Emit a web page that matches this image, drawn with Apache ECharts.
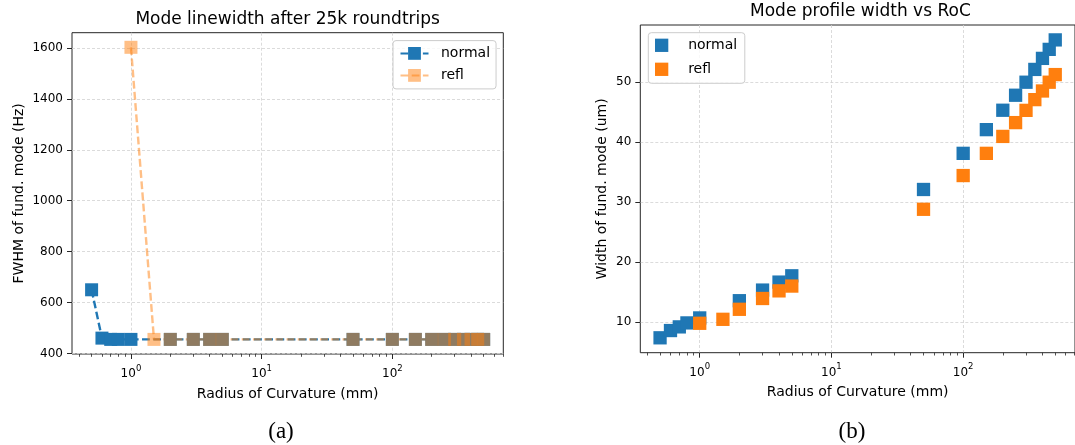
<!DOCTYPE html>
<html>
<head>
<meta charset="utf-8">
<script src="https://cdn.jsdelivr.net/npm/echarts@6/dist/echarts.min.js"></script>
<style>
  html, body { margin: 0; padding: 0; background: #ffffff; }
  #chart { width: 1075px; height: 445px; }
</style>
</head>
<body>
<div id="chart"></div>
<script>
// Radius of curvature of each simulated mirror (mm)
const rocNormal = [0.5, 0.6, 0.7, 0.8, 1, 2, 3, 4, 5, 50, 100, 150, 200, 250, 300, 350, 400, 450, 500];
const rocRefl = [1, 1.5, 2, 3, 4, 5, 50, 100, 150, 200, 250, 300, 350, 400, 450, 500];

// Linewidth (FWHM) of the fundamental mode after 25k roundtrips (Hz)
const fwhmNormal = [650, 460, 455, 455, 455, 455, 455, 455, 455, 455, 455, 455, 455, 455, 455, 455, 455, 455, 455];
const fwhmRefl = [1603, 455, 455, 455, 455, 455, 455, 455, 455, 455, 455, 455, 455, 455, 455, 455];

// Width of the fundamental mode profile (um)
const widthNormal = [7.35, 8.56, 9.17, 9.83, 10.66, 13.53, 15.3, 16.63, 17.68, 32.06, 38.08, 42.03, 45.26, 47.76, 49.93, 52.06, 53.9, 55.4, 56.98];
const widthRefl = [9.77, 10.43, 12.1, 13.9, 15.17, 15.97, 28.76, 34.38, 38.08, 40.9, 43.2, 45.24, 47.03, 48.47, 49.93, 51.2];

// Tick positions
const rocMajorTicks = [1, 10, 100];
const rocMinorTicks = [0.4, 0.5, 0.6, 0.7, 0.8, 0.9, 2, 3, 4, 5, 6, 7, 8, 9,
                       20, 30, 40, 50, 60, 70, 80, 90, 200, 300, 400, 500, 600, 700];
const fwhmTicks = [400, 600, 800, 1000, 1200, 1400, 1600];
const widthTicks = [10, 20, 30, 40, 50];

const seriesNames = ['normal', 'refl'];

// ---- styling / layout ----
const FONT = 'DejaVu Sans';
const SERIF = 'Liberation Serif';
const BLUE = '#1f77b4';
const ORANGE = '#ff7f0e';
const INK = '#000000';
const SPINE = '#262626';
const W = 1075, H = 445;

// plot boxes (pixels): left, top, right edge, bottom edge
const boxA = { l: 72, t: 32.7, r: 503.3, b: 354 };
const boxB = { l: 640.3, t: 25, r: 1080.5, b: 352.7 };

function pairs(xs, ys) { return xs.map((x, i) => [x, ys[i]]); }

// 5% autoscale margins like a default pyplot axis (log-space for x)
function logRange(xs) {
  const lo = Math.log10(Math.min(...xs)), hi = Math.log10(Math.max(...xs));
  const m = (hi - lo) * 0.05;
  return [Math.pow(10, lo - m), Math.pow(10, hi + m)];
}
function linRange(ys) {
  const lo = Math.min(...ys), hi = Math.max(...ys);
  const m = (hi - lo) * 0.05;
  return [lo - m, hi + m];
}

const xRangeA = logRange(rocNormal.concat(rocRefl));
const xRangeB = logRange(rocNormal.concat(rocRefl));
const yRangeA = linRange(fwhmNormal.concat(fwhmRefl));
const yRangeB = linRange(widthNormal.concat(widthRefl));

const gridLine = { show: true, lineStyle: { color: '#d2d2d2', type: [3, 2], width: 0.8 } };
const tickLine = { color: SPINE, width: 1 };
const DASH = [7.8, 3.4];

function gridOf(box) {
  return {
    left: box.l, top: box.t, right: W - box.r, bottom: H - box.b,
    show: true, borderColor: SPINE, borderWidth: 1, backgroundColor: 'transparent'
  };
}

function majorX(gridIndex, range) {
  return {
    type: 'log', logBase: 10, gridIndex, position: 'bottom',
    min: range[0], max: range[1],
    name: 'Radius of Curvature (mm)', nameLocation: 'middle', nameGap: 33,
    nameTextStyle: { fontFamily: FONT, fontSize: 14, color: INK },
    axisLine: { show: false, onZero: false },
    axisTick: { show: true, customValues: rocMajorTicks, length: 5, lineStyle: tickLine },
    axisLabel: {
      customValues: rocMajorTicks, margin: 10, color: INK,
      formatter: v => '{b|10}{s|' + Math.round(Math.log10(v)) + '}',
      rich: {
        b: { fontFamily: FONT, fontSize: 12, color: INK, lineHeight: 16, verticalAlign: 'bottom' },
        s: { fontFamily: FONT, fontSize: 8.5, color: INK, lineHeight: 10, verticalAlign: 'top' }
      }
    },
    splitLine: gridLine,
    minorTick: { show: false }, minorSplitLine: { show: false }
  };
}

function minorX(gridIndex, range) {
  return {
    type: 'log', logBase: 10, gridIndex, position: 'bottom',
    min: range[0], max: range[1],
    axisLine: { show: false, onZero: false },
    axisTick: { show: true, customValues: rocMinorTicks, length: 2.8, lineStyle: { color: SPINE, width: 0.8 } },
    axisLabel: { show: false },
    splitLine: { show: false }
  };
}

function valueY(gridIndex, range, ticks, name, gap) {
  return {
    type: 'value', gridIndex, min: range[0], max: range[1],
    name, nameLocation: 'middle', nameGap: gap,
    nameTextStyle: { fontFamily: FONT, fontSize: 14, color: INK },
    axisLine: { show: false },
    axisTick: { show: true, customValues: ticks, length: 5, lineStyle: tickLine },
    axisLabel: {
      customValues: ticks, margin: 9, fontFamily: FONT, fontSize: 12, color: INK,
      formatter: v => String(v)
    },
    splitLine: gridLine
  };
}

const legendBase = {
  orient: 'vertical', selectedMode: false, itemWidth: 28,
  textStyle: { fontFamily: FONT, fontSize: 14, color: INK, padding: [0, 0, 0, 7.5] },
  borderColor: '#cccccc', borderWidth: 1, borderRadius: 3,
  backgroundColor: 'rgba(255,255,255,0.8)'
};
const SQUARE = 'path://M0,0L10,0L10,10L0,10Z';

const titleStyle = { fontFamily: FONT, fontSize: 17, fontWeight: 'normal', color: INK };
const captionStyle = { fontFamily: SERIF, fontSize: 23, fontWeight: 'normal', color: INK };

const option = {
  animation: false,
  backgroundColor: '#ffffff',
  title: [
    { text: 'Mode linewidth after 25k roundtrips', left: (boxA.l + boxA.r) / 2, top: 11,
      textAlign: 'center', padding: 0, textStyle: titleStyle },
    { text: 'Mode profile width vs RoC', left: (boxB.l + boxB.r) / 2, top: 3,
      textAlign: 'center', padding: 0, textStyle: titleStyle },
    { text: '(a)', left: 281, top: 420, textAlign: 'center', padding: 0, textStyle: captionStyle },
    { text: '(b)', left: 852, top: 420, textAlign: 'center', padding: 0, textStyle: captionStyle }
  ],
  legend: [
    Object.assign({}, legendBase, {
      left: 393, top: 40.6, itemHeight: 16, itemGap: 8,
      padding: [5.8, 6, 6.5, 6.5],
      data: seriesNames
    }),
    Object.assign({}, legendBase, {
      left: 648.3, top: 32.7, itemHeight: 13.3, itemGap: 10,
      padding: [5.6, 7.6, 7, 6.7],
      data: [
        { name: seriesNames[0], icon: SQUARE, itemStyle: { color: BLUE, opacity: 1 } },
        { name: seriesNames[1], icon: SQUARE, itemStyle: { color: ORANGE, opacity: 1 } }
      ]
    })
  ],
  grid: [gridOf(boxA), gridOf(boxB)],
  xAxis: [majorX(0, xRangeA), minorX(0, xRangeA), majorX(1, xRangeB), minorX(1, xRangeB)],
  yAxis: [
    valueY(0, yRangeA, fwhmTicks, 'FWHM of fund. mode (Hz)', 46),
    valueY(1, yRangeB, widthTicks, 'Width of fund. mode (um)', 31)
  ],
  series: [
    {
      name: seriesNames[0], type: 'line', xAxisIndex: 0, yAxisIndex: 0,
      data: pairs(rocNormal, fwhmNormal),
      symbol: 'rect', symbolSize: 13, showAllSymbol: true,
      itemStyle: { color: BLUE },
      lineStyle: { color: BLUE, width: 2.4, type: DASH },
      emphasis: { disabled: true }
    },
    {
      name: seriesNames[1], type: 'line', xAxisIndex: 0, yAxisIndex: 0,
      data: pairs(rocRefl, fwhmRefl),
      symbol: 'rect', symbolSize: 13, showAllSymbol: true,
      itemStyle: { color: ORANGE, opacity: 0.5 },
      lineStyle: { color: ORANGE, width: 2.4, type: DASH, opacity: 0.5 },
      emphasis: { disabled: true }
    },
    {
      name: seriesNames[0], type: 'scatter', xAxisIndex: 2, yAxisIndex: 1,
      data: pairs(rocNormal, widthNormal),
      symbol: 'rect', symbolSize: 13.3,
      itemStyle: { color: BLUE, opacity: 1 },
      emphasis: { disabled: true }
    },
    {
      name: seriesNames[1], type: 'scatter', xAxisIndex: 2, yAxisIndex: 1,
      data: pairs(rocRefl, widthRefl),
      symbol: 'rect', symbolSize: 13.3,
      itemStyle: { color: ORANGE, opacity: 1 },
      emphasis: { disabled: true }
    }
  ]
};

const chart = echarts.init(document.getElementById('chart'), null, { renderer: 'canvas' });
chart.setOption(option);
</script>
</body>
</html>
